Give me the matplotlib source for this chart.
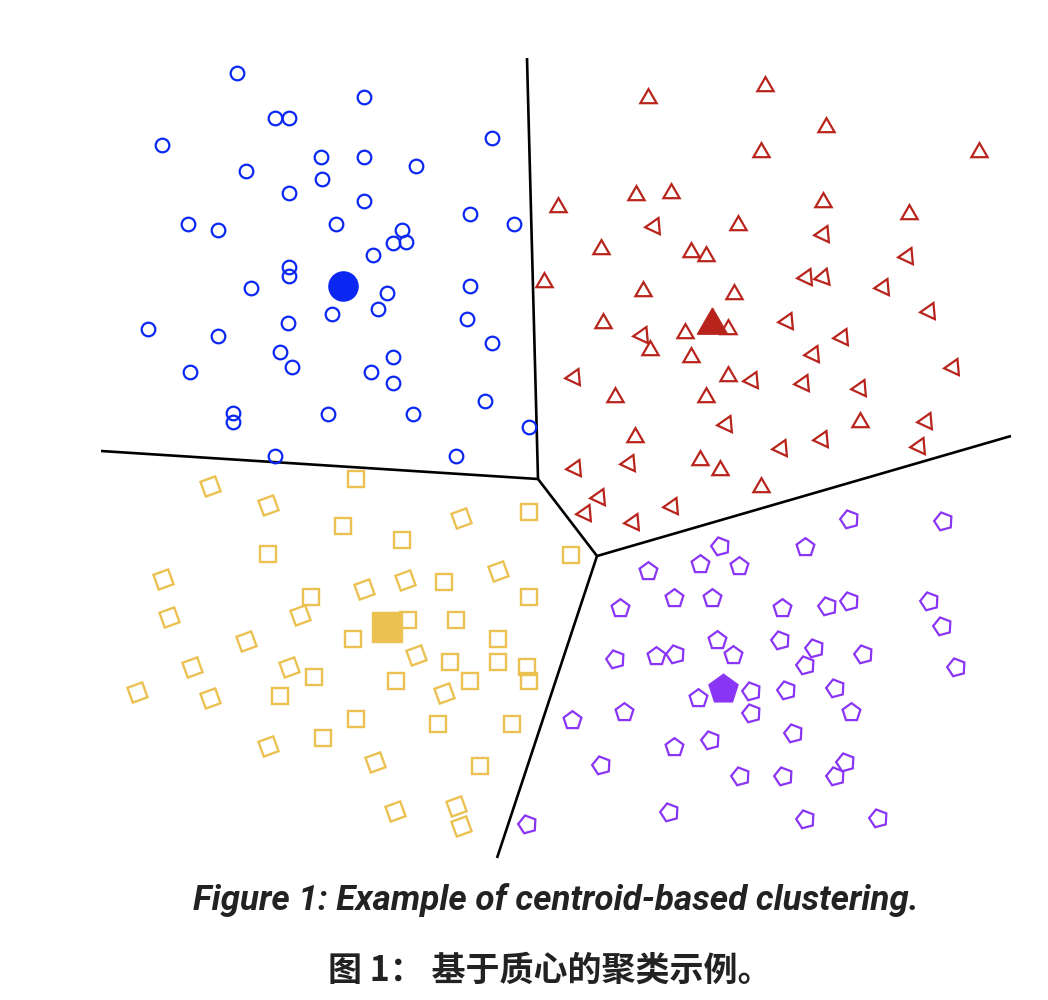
import matplotlib
matplotlib.use("Agg")
import matplotlib.pyplot as plt

# points (pixel coordinates, y down)
blue_x = [237, 364, 275, 289, 162, 492, 321, 364, 416, 246, 322, 289, 364, 470, 188, 218,
          336, 514, 402, 393, 406, 373, 289, 289, 251, 470, 387, 378, 332, 467, 148, 218,
          288, 492, 280, 292, 393, 190, 371, 393, 485, 233, 233, 328, 413, 529, 275, 456]
blue_y = [73, 97, 118, 118, 145, 138, 157, 157, 166, 171, 179, 193, 201, 214, 224, 230,
          224, 224, 230, 243, 242, 255, 267, 276, 288, 286, 293, 309, 314, 319, 329, 336,
          323, 343, 352, 367, 357, 372, 372, 383, 401, 413, 422, 414, 414, 427, 456, 456]
blue_centroid = (343, 286)

red_x = [648, 765, 826, 761, 979, 636, 671, 558, 823, 909, 654, 738, 823, 601, 691, 706,
         907, 544, 806, 823, 883, 643, 734, 929, 603, 728, 685, 642, 787, 650, 842, 691,
         813, 953, 574, 728, 752, 803, 615, 706, 860, 726, 860, 926, 635, 781, 822, 919,
         575, 629, 700, 720, 761, 599, 585, 672, 633]
red_y = [98, 86, 127, 152, 152, 195, 193, 207, 202, 214, 226, 225, 234, 249, 252, 256,
         256, 282, 277, 277, 287, 291, 294, 311, 323, 329, 333, 335, 321, 350, 337, 357,
         354, 367, 377, 376, 380, 383, 397, 397, 388, 424, 422, 421, 437, 448, 439, 446,
         468, 463, 460, 470, 487, 497, 513, 506, 522]
# triangle orientation in degrees (0 = pointing up, 90 = pointing left)
red_angle = [0, 0, 0, 0, 0, 0, 0, 0, 0, 0, 95, 0, 95, 0, 0, 0,
             95, 0, 95, -20, 95, 0, 0, 95, 0, 0, 0, 95, 95, 0, 95, 0,
             95, 95, 95, 0, 95, 95, 0, 0, 95, 95, 0, 95, 0, 95, 95, 95,
             95, 95, 0, 0, 0, 95, 95, 95, 95]
red_centroid = (712, 325)

yellow_x = [210, 268, 356, 461, 529, 343, 402, 268, 571, 163, 498, 405, 444, 364, 311, 529,
            300, 169, 408, 456, 353, 498, 246, 416, 192, 289, 450, 498, 527, 314, 396, 470,
            529, 137, 444, 210, 280, 356, 438, 512, 323, 268, 375, 480, 395, 456, 461]
yellow_y = [486, 505, 479, 518, 512, 526, 540, 554, 555, 579, 571, 580, 582, 589, 597, 597,
            615, 617, 620, 620, 639, 639, 641, 655, 667, 667, 662, 662, 667, 677, 681, 681,
            681, 692, 693, 698, 696, 719, 724, 724, 738, 746, 762, 766, 811, 806, 826]
# square tilt in degrees
yellow_angle = [20, 20, 0, 20, 0, 0, 0, 0, 0, 20, 20, 20, 0, 20, 0, 0,
                20, 20, 0, 0, 0, 0, 20, 20, 20, 20, 0, 0, 0, 0, 0, 0,
                0, 20, 20, 20, 0, 0, 0, 0, 0, 20, 20, 0, 20, 20, 20]
yellow_centroid = (387, 627)

purple_x = [849, 943, 720, 805, 700, 739, 648, 674, 712, 620, 782, 827, 849, 929, 942, 717,
            780, 814, 733, 615, 656, 675, 863, 805, 956, 698, 751, 786, 835, 751, 851, 624,
            572, 793, 710, 674, 601, 845, 835, 740, 783, 669, 805, 878, 527]
purple_y = [519, 521, 546, 547, 564, 566, 571, 598, 598, 608, 608, 606, 601, 601, 626, 640,
            640, 648, 655, 659, 656, 654, 654, 665, 667, 698, 691, 690, 688, 713, 712, 712,
            720, 733, 740, 747, 765, 762, 776, 776, 776, 812, 819, 818, 824]
purple_angle = [15, 15, 15, 0, 0, 0, 0, 0, 0, 0, 0, 15, 15, 15, 15, 0,
                15, 15, 0, 15, 0, 15, 15, 15, 15, 0, 15, 15, 15, 15, 0, 0,
                0, 15, 15, 0, 15, 15, 15, 15, 15, 15, 15, 15, 15]
purple_centroid = (723, 689)

# voronoi-style borders
border_x = [[527, 538], [101, 538], [538, 597], [597, 1011], [597, 497]]
border_y = [[58, 479], [451, 479], [479, 556], [556, 436], [556, 858]]

c_blue = "#0a28f2"
c_red = "#b8241c"
c_yellow = "#ebc152"
c_purple = "#8a35f5"

fig = plt.figure(figsize=(10.48, 10.0), dpi=100)
ax = fig.add_axes([0, 0, 1, 1])
ax.set_xlim(0, 1048)
ax.set_ylim(1000, 0)
ax.axis("off")

for bx, by in zip(border_x, border_y):
    ax.plot(bx, by, color="black", lw=1.9, solid_capstyle="butt", zorder=1)

# clusters
ax.plot(blue_x, blue_y, "o", ms=9.8, mfc="none", mec=c_blue, mew=1.6, zorder=2)
ax.plot(*blue_centroid, "o", ms=21, color=c_blue, zorder=3)

for x, y, a in zip(red_x, red_y, red_angle):
    ax.plot(x, y, marker=(3, 0, a), ms=13.5, mfc="none", mec=c_red, mew=1.6, zorder=2)
ax.plot(*red_centroid, marker=(3, 0, 0), ms=25, color=c_red, zorder=3)

for x, y, a in zip(yellow_x, yellow_y, yellow_angle):
    ax.plot(x, y, marker=(4, 0, 45 + a), ms=16, mfc="none", mec=c_yellow, mew=1.7, zorder=2)
ax.plot(*yellow_centroid, marker=(4, 0, 45), ms=30, color=c_yellow, zorder=3)

for x, y, a in zip(purple_x, purple_y, purple_angle):
    ax.plot(x, y, marker=(5, 0, a), ms=13.5, mfc="none", mec=c_purple, mew=1.6, zorder=2)
ax.plot(*purple_centroid, marker=(5, 0, 0), ms=22, color=c_purple, zorder=3)

# captions
fig.text(0.53, 0.10, "Figure 1: Example of centroid-based clustering.",
         ha="center", va="center", fontsize=25.2, family="Roboto",
         weight="bold", style="italic", color="#222222")
fig.text(0.525, 0.03, "图 1： 基于质心的聚类示例。",
         ha="center", va="center", fontsize=24.5, family=["Noto Sans CJK SC", "DejaVu Sans"],
         weight="bold", color="#222222")

fig.savefig("out.png", dpi=100)
